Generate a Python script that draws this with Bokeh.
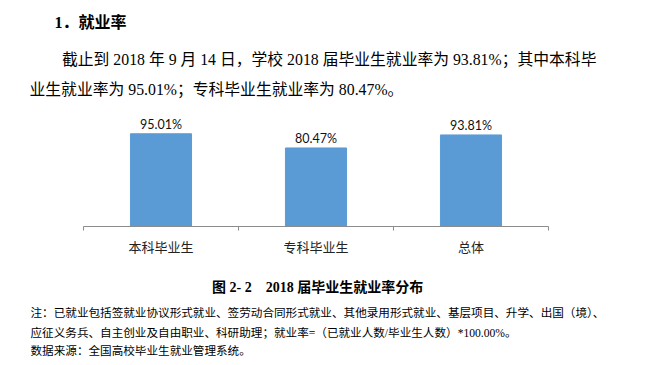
from bokeh.plotting import figure
from bokeh.layouts import column
from bokeh.models import ColumnDataSource, LabelSet, Label, Range1d, FixedTicker
from bokeh.core.properties import value
from bokeh.embed import file_html
from bokeh.resources import INLINE

# ---- data ----
categories = ["本科毕业生", "专科毕业生", "总体"]
rates = [95.01, 80.47, 93.81]
rate_labels = ["95.01%", "80.47%", "93.81%"]

heading = "1．就业率"
para_lines = [
    "截止到 2018 年 9 月 14 日，学校 2018 届毕业生就业率为 93.81%；其中本科毕",
    "业生就业率为 95.01%；专科毕业生就业率为 80.47%。",
]
caption = "图 2- 2\u00a0\u00a0\u00a0 2018 届毕业生就业率分布"
notes = [
    "注：已就业包括签就业协议形式就业、签劳动合同形式就业、其他录用形式就业、基层项目、升学、出国（境）、",
    "应征义务兵、自主创业及自由职业、科研助理；就业率=（已就业人数/毕业生人数）*100.00%。",
    "数据来源：全国高校毕业生就业管理系统。",
]

SERIF_CJK = "'Liberation Serif', 'Noto Sans CJK SC'"
W = 652
H_TOP, H_CHART, H_BOT = 112, 150, 101
AXIS_L, AXIS_R = 83, 548      # pixel extent of the category axis
AXIS_BORDER = 36              # space below the axis line in the chart figure


def text_fig(h):
    f = figure(width=W, height=h, output_backend="svg", toolbar_location=None,
               x_range=Range1d(0, W), y_range=Range1d(h, 0),
               x_axis_location=None, y_axis_location=None,
               min_border=0, min_border_left=0, min_border_right=0,
               min_border_top=0, min_border_bottom=0)
    f.outline_line_color = None
    f.grid.visible = False
    return f


def add_text(f, txt, x, y, size, bold=False, font=SERIF_CJK):
    f.add_layout(Label(x=x, y=y, text=txt, text_font=font, text_font_size=size,
                       text_font_style="bold" if bold else "normal",
                       text_baseline="middle", text_align="left",
                       text_color="black"))


# ---- top text ----
top = text_fig(H_TOP)
add_text(top, heading, 54, 22, "16px", bold=True)
add_text(top, para_lines[0], 61.5, 58.5, "15.8px")
add_text(top, para_lines[1], 29, 88.5, "15.8px")

# ---- chart ----
n = len(categories)
xpos = [i + 0.5 for i in range(n)]
src = ColumnDataSource(dict(x=xpos, top=rates, label=rate_labels))
upp = n / (AXIS_R - AXIS_L)

p = figure(width=W, height=H_CHART, output_backend="svg", toolbar_location=None,
           x_range=Range1d(-AXIS_L * upp, n + (W - AXIS_R) * upp),
           y_range=Range1d(0, 116.8),
           y_axis_location=None, min_border=0, min_border_left=0,
           min_border_right=0, min_border_top=0, min_border_bottom=AXIS_BORDER)
p.outline_line_color = None
p.grid.visible = False

p.vbar(x="x", top="top", width=0.394, source=src, fill_color="#5B9BD5",
       line_color="#5B9BD5")

ax = p.xaxis[0]
ax.bounds = (0, n)
ax.ticker = FixedTicker(ticks=xpos, minor_ticks=list(range(n + 1)))
ax.major_label_overrides = {x: c for x, c in zip(xpos, categories)}
ax.major_tick_line_color = None
ax.major_tick_out = 0
ax.major_tick_in = 0
ax.minor_tick_out = 4
ax.minor_tick_in = 0
ax.minor_tick_line_color = "#8c8c8c"
ax.axis_line_color = "#8c8c8c"
ax.major_label_standoff = 6
ax.major_label_text_font = "Noto Sans CJK SC"
ax.major_label_text_font_size = "13px"
ax.major_label_text_color = "#222222"

p.add_layout(LabelSet(x="x", y="top", text="label", source=src, y_offset=2,
                      text_align="center", text_baseline="bottom",
                      text_font=value("Lato"), text_font_size="12.5px",
                      text_color="#111111"))

# ---- bottom text ----
bot = text_fig(H_BOT)
add_text(bot, caption, 211.5, 24.5, "14px", bold=True)
for t, y in zip(notes, [50.7, 70.7, 89]):
    add_text(bot, t, 30, y, "11.6px")

layout = column(top, p, bot, spacing=0)
open("out.html", "w").write(file_html(layout, INLINE))
